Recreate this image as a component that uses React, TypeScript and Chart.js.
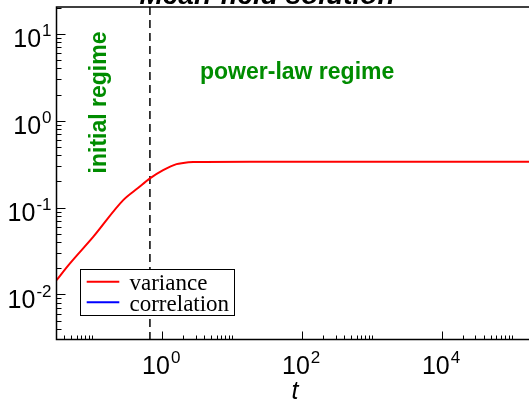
import React, { useEffect, useRef } from "react";
import { Chart, registerables } from "chart.js";

Chart.register(...registerables);

// ---- data ----
const tValues = [0.0308, 0.048, 0.103, 0.277, 0.45, 0.667, 1.03, 1.6, 2.0, 2.77, 4, 17.8, 100, 1000, 10000, 100000, 175000];
const variance = [0.0146, 0.0228, 0.046, 0.122, 0.168, 0.217, 0.27, 0.317, 0.326, 0.334, 0.336, 0.337, 0.337, 0.337, 0.337, 0.337, 0.337];
const correlation: number[] = []; // not visible in the picture
const seriesLabels = ["variance", "correlation"];
const seriesColors = ["#ff0000", "#0000ff"];
const crossoverT = 0.667;
const xLabelExps = [0, 2, 4];
const xTickDecades = [-2, 0, 2, 4];
const yLabelExps = [-2, -1, 0, 1];
const titleText = "Mean-field solution";
const xTitle = "t";
const regimeInitial = "initial regime";
const regimePower = "power-law regime";

const SANS = "'Liberation Sans', Arial, sans-serif";
const SERIF = "'Liberation Serif', 'Times New Roman', serif";

function drawPow(ctx: CanvasRenderingContext2D, exp: number, x: number, baseline: number, align: "right" | "center") {
  const base = "10";
  const sup = String(exp).replace("-", "-");
  ctx.font = `25px ${SANS}`;
  const wb = ctx.measureText(base).width;
  ctx.font = `17px ${SANS}`;
  const ws = ctx.measureText(sup).width;
  const total = wb + ws + 1;
  const start = align === "right" ? x - total : x - total / 2;
  ctx.textAlign = "left";
  ctx.textBaseline = "alphabetic";
  ctx.font = `25px ${SANS}`;
  ctx.fillText(base, start, baseline);
  ctx.font = `17px ${SANS}`;
  ctx.fillText(sup, start + wb + 1, baseline - 11);
}

const decorPlugin = {
  id: "decor",
  beforeDatasetsDraw(chart: any) {
    const ctx: CanvasRenderingContext2D = chart.ctx;
    const { top, bottom } = chart.chartArea;
    const xs = chart.scales.x;
    const xd = xs.getPixelForValue(crossoverT);
    ctx.save();
    ctx.strokeStyle = "#000";
    ctx.lineWidth = 1.5;
    ctx.setLineDash([8, 5]);
    ctx.beginPath();
    ctx.moveTo(xd, top);
    ctx.lineTo(xd, bottom);
    ctx.stroke();
    ctx.restore();
  },
  afterDatasetsDraw(chart: any) {
    const ctx: CanvasRenderingContext2D = chart.ctx;
    const { left, right, top, bottom } = chart.chartArea;
    const xs = chart.scales.x;
    const ys = chart.scales.y;
    ctx.save();
    // frame
    ctx.strokeStyle = "#000";
    ctx.lineWidth = 1.5;
    ctx.beginPath();
    ctx.moveTo(right + 2, top);
    ctx.lineTo(left, top);
    ctx.lineTo(left, bottom);
    ctx.lineTo(right + 2, bottom);
    ctx.stroke();

    // x ticks
    ctx.lineWidth = 1;
    const xmin = xs.min, xmax = xs.max;
    for (const n of xTickDecades) {
      const major = Math.pow(10, n);
      if (major >= xmin && major <= xmax) {
        const px = Math.round(xs.getPixelForValue(major)) + 0.5;
        ctx.beginPath();
        ctx.moveTo(px, bottom);
        ctx.lineTo(px, bottom - 8);
        ctx.stroke();
      }
      for (let k = 2; k <= 10; k++) {
        const v = k * major;
        if (v < xmin || v > xmax) continue;
        const px = Math.round(xs.getPixelForValue(v)) + 0.5;
        ctx.beginPath();
        ctx.moveTo(px, bottom);
        ctx.lineTo(px, bottom - 4);
        ctx.stroke();
      }
    }
    // y ticks
    const ymin = ys.min, ymax = ys.max;
    for (let n = -3; n <= 1; n++) {
      const major = Math.pow(10, n);
      if (major >= ymin && major <= ymax) {
        const py = Math.round(ys.getPixelForValue(major)) + 0.5;
        ctx.beginPath();
        ctx.moveTo(left, py);
        ctx.lineTo(left + 9, py);
        ctx.stroke();
      }
      for (let k = 2; k <= 9; k++) {
        const v = k * major;
        if (v < ymin || v > ymax) continue;
        const py = Math.round(ys.getPixelForValue(v)) + 0.5;
        ctx.beginPath();
        ctx.moveTo(left, py);
        ctx.lineTo(left + 5, py);
        ctx.stroke();
      }
    }

    // tick labels
    ctx.fillStyle = "#000";
    for (const e of xLabelExps) {
      const px = xs.getPixelForValue(Math.pow(10, e));
      drawPow(ctx, e, px - 1, bottom + 34, "center");
    }
    for (const e of yLabelExps) {
      const py = ys.getPixelForValue(Math.pow(10, e));
      drawPow(ctx, e, left - 5, py + 13.5, "right");
    }

    // axis title
    ctx.font = `italic 25px ${SANS}`;
    ctx.textAlign = "center";
    ctx.textBaseline = "alphabetic";
    ctx.fillText(xTitle, 295, 399);

    // title (cut off at top)
    ctx.font = `italic bold 28px ${SANS}`;
    ctx.fillText(titleText, 267, 4);

    // regime labels
    ctx.fillStyle = "rgb(0,140,0)";
    ctx.font = `bold 23px ${SANS}`;
    ctx.textAlign = "left";
    ctx.fillText(regimePower, 200, 79);
    ctx.save();
    ctx.translate(106, 102.5);
    ctx.rotate(-Math.PI / 2);
    ctx.textAlign = "center";
    ctx.fillText(regimeInitial, 0, 0);
    ctx.restore();

    // legend
    const bx = 80.5, by = 269.5, bw = 154, bh = 46;
    ctx.fillStyle = "#fff";
    ctx.fillRect(bx, by, bw, bh);
    ctx.strokeStyle = "#000";
    ctx.lineWidth = 1;
    ctx.strokeRect(bx, by, bw, bh);
    const ds = chart.data.datasets;
    ds.forEach((d: any, i: number) => {
      const ly = 281.7 + i * 20.6;
      ctx.strokeStyle = d.borderColor;
      ctx.lineWidth = 2;
      ctx.beginPath();
      ctx.moveTo(86.7, ly);
      ctx.lineTo(119.3, ly);
      ctx.stroke();
      ctx.fillStyle = "#000";
      ctx.font = `23px ${SERIF}`;
      ctx.textAlign = "left";
      ctx.fillText(d.label, 129.5, 289.5 + i * 21);
    });
    ctx.restore();
  },
};

export default function App() {
  const ref = useRef<HTMLCanvasElement>(null);
  useEffect(() => {
    if (!ref.current) return;
    const chart = new Chart(ref.current, {
      type: "line",
      data: {
        datasets: [
          {
            label: seriesLabels[0],
            data: tValues.map((t, i) => ({ x: t, y: variance[i] })),
            borderColor: seriesColors[0],
            borderWidth: 2,
            pointRadius: 0,
            cubicInterpolationMode: "monotone",
            fill: false,
          },
          {
            label: seriesLabels[1],
            data: correlation.map((c, i) => ({ x: tValues[i], y: c })),
            borderColor: seriesColors[1],
            borderWidth: 2,
            pointRadius: 0,
            fill: false,
          },
        ],
      },
      options: {
        animation: false,
        responsive: false,
        events: [],
        layout: { padding: { left: 56.5, top: 7, right: 0, bottom: 62.5 } },
        plugins: { legend: { display: false }, tooltip: { enabled: false }, title: { display: false } },
        scales: {
          x: { type: "logarithmic", min: 0.0308, max: 175000, display: false },
          y: { type: "logarithmic", min: 0.00303, max: 20.4, display: false },
        },
      },
      plugins: [decorPlugin],
    } as any);
    return () => chart.destroy();
  }, []);
  return (
    <div style={{ position: "fixed", left: 0, top: 0, width: 529, height: 402, background: "#fff", overflow: "hidden" }}>
      <canvas ref={ref} width={529} height={402} style={{ display: "block" }} />
    </div>
  );
}
